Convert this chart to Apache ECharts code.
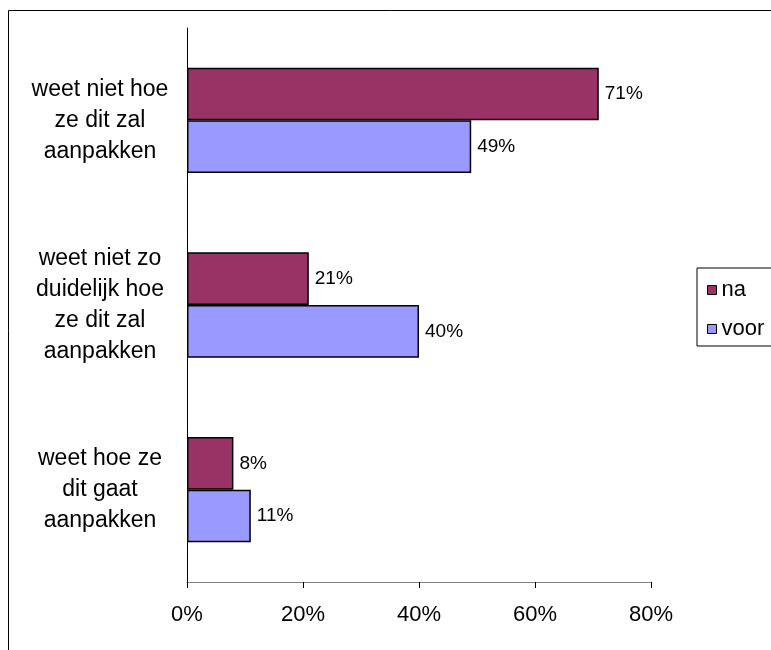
<!DOCTYPE html>
<html>
<head>
<meta charset="utf-8">
<script src="https://cdn.jsdelivr.net/npm/echarts@6/dist/echarts.min.js"></script>
<style>
  html, body { margin: 0; padding: 0; background: #fff; }
  #chart { width: 771px; height: 650px; }
</style>
</head>
<body>
<div id="chart"></div>
<script>
// Categories, top to bottom
const categories = [
  'weet niet hoe\nze dit zal\naanpakken',
  'weet niet zo\nduidelijk hoe\nze dit zal\naanpakken',
  'weet hoe ze\ndit gaat\naanpakken'
];
const seriesNames = ['na', 'voor'];
const naValues = [71, 21, 8];
const voorValues = [49, 40, 11];
const xTicks = { min: 0, max: 80, interval: 20 };

const FONT = 'Arial, "Liberation Sans", sans-serif';

const chart = echarts.init(document.getElementById('chart'), null, { renderer: 'canvas' });

const barLabel = {
  show: true,
  position: 'right',
  distance: 6,
  formatter: '{c}%',
  color: '#000',
  fontFamily: FONT,
  fontSize: 19
};

chart.setOption({
  animation: false,
  backgroundColor: '#fff',
  graphic: [{
    type: 'rect',
    shape: { x: 8.5, y: 10.5, width: 800, height: 700 },
    style: { fill: 'none', stroke: '#000', lineWidth: 1 },
    silent: true,
    z: 0
  }],
  grid: { left: 187, right: 120, top: 28, bottom: 68, containLabel: false },
  legend: {
    orient: 'vertical',
    left: 697,
    top: 268,
    padding: [11, 20, 6, 10],
    itemGap: 17,
    itemWidth: 9,
    itemHeight: 9,
    icon: 'rect',
    borderColor: '#000',
    borderWidth: 1,
    backgroundColor: '#fff',
    data: seriesNames,
    textStyle: { fontFamily: FONT, fontSize: 22, color: '#000' },
    itemStyle: { borderColor: '#000', borderWidth: 1 }
  },
  xAxis: {
    type: 'value',
    min: xTicks.min,
    max: xTicks.max,
    interval: xTicks.interval,
    axisLine: { show: true, lineStyle: { color: '#808080', width: 1 } },
    axisTick: { show: true, inside: false, length: 6, lineStyle: { color: '#000', width: 1 } },
    axisLabel: { formatter: '{value}%', margin: 22, color: '#000', fontFamily: FONT, fontSize: 22 },
    splitLine: { show: false }
  },
  yAxis: {
    type: 'category',
    inverse: true,
    data: categories,
    axisLine: { show: true, lineStyle: { color: '#000', width: 1 } },
    axisTick: { show: false },
    axisLabel: {
      align: 'center',
      margin: 87,
      color: '#000',
      fontFamily: FONT,
      fontSize: 23,
      lineHeight: 31
    }
  },
  series: [
    {
      name: seriesNames[0],
      type: 'bar',
      data: naValues,
      barGap: '0%',
      barCategoryGap: '43%',
      itemStyle: { color: '#993366', borderColor: '#000', borderWidth: 1.5 },
      label: barLabel
    },
    {
      name: seriesNames[1],
      type: 'bar',
      data: voorValues,
      barGap: '0%',
      barCategoryGap: '43%',
      itemStyle: { color: '#9999FF', borderColor: '#000', borderWidth: 1.5 },
      label: barLabel
    }
  ]
});
</script>
</body>
</html>
